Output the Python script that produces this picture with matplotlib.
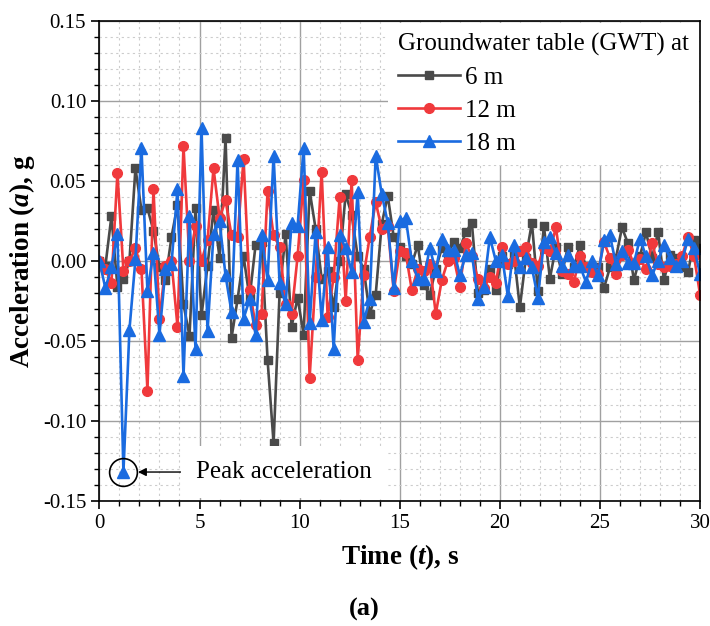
import numpy as np
import matplotlib
matplotlib.use("Agg")
import matplotlib.pyplot as plt
from matplotlib.ticker import MultipleLocator

# sampling times (s), one sample every 0.3 s
time_s = np.round(np.arange(101) * 0.3, 1)

# acceleration (g)
acc_6m = [0.000, -0.003, 0.028, -0.016, -0.011, 0.000, 0.058, 0.032, 0.033, 0.019,
          -0.004, -0.012, 0.015, 0.035, -0.027, -0.047, 0.033, -0.034, -0.003, 0.032,
          0.002, 0.077, -0.048, -0.024, 0.003, -0.023, 0.010, 0.012, -0.062, -0.114,
          -0.020, 0.017, -0.041, -0.023, -0.046, 0.044, 0.020, -0.011, -0.006, -0.029,
          0.000, 0.042, 0.029, 0.003, -0.005, -0.033, -0.021, 0.023, 0.041, 0.015,
          0.009, 0.003, -0.002, 0.010, -0.015, -0.021, -0.005, 0.008, 0.005, 0.012,
          0.008, 0.018, 0.024, -0.020, -0.018, -0.005, -0.018, 0.003, -0.002, 0.005,
          -0.029, 0.002, 0.024, -0.019, 0.022, -0.011, 0.009, -0.008, 0.009, -0.004,
          0.010, -0.004, -0.007, -0.004, -0.017, -0.004, 0.002, 0.021, 0.011, -0.012,
          0.003, 0.018, 0.002, 0.018, -0.012, 0.004, 0.002, -0.004, -0.007, 0.013,
          0.008]
acc_12m = [0.000, -0.005, -0.014, 0.055, -0.006, 0.000, 0.008, -0.005, -0.081, 0.045,
           -0.036, -0.003, 0.000, -0.041, 0.072, 0.000, 0.022, 0.000, 0.013, 0.058,
           0.027, 0.038, 0.016, 0.015, 0.064, -0.018, -0.040, -0.033, 0.044, 0.016,
           0.009, -0.027, -0.033, 0.003, 0.051, -0.073, -0.010, 0.056, -0.035, -0.010,
           0.040, -0.025, 0.051, -0.062, -0.009, 0.015, 0.037, 0.020, 0.022, -0.019,
           0.006, 0.005, -0.018, -0.005, -0.006, -0.002, -0.033, -0.012, 0.000, 0.002,
           -0.016, 0.011, 0.003, -0.011, -0.017, -0.010, -0.014, 0.009, -0.002, 0.000,
           0.006, 0.009, -0.001, -0.003, 0.008, 0.006, 0.021, -0.006, -0.008, -0.013,
           0.003, -0.004, -0.007, -0.008, 0.012, 0.002, -0.008, 0.004, 0.007, -0.002,
           0.001, -0.005, 0.011, -0.002, -0.004, -0.003, -0.002, 0.003, 0.015, 0.003,
           -0.021]
acc_18m = [0.000, -0.017, -0.004, 0.017, -0.132, -0.043, 0.001, 0.071, -0.019, 0.005,
           -0.046, -0.005, -0.002, 0.045, -0.072, 0.028, -0.055, 0.083, -0.044, 0.017,
           0.025, -0.009, -0.032, 0.063, -0.036, -0.024, -0.046, 0.016, -0.012, 0.066,
           -0.014, -0.027, 0.024, 0.022, 0.071, -0.039, 0.018, -0.037, 0.009, -0.055,
           0.016, 0.008, -0.007, 0.043, -0.038, -0.024, 0.066, 0.042, 0.024, -0.017,
           0.025, 0.027, 0.000, -0.011, -0.011, 0.008, -0.006, 0.014, 0.007, 0.007,
           -0.009, 0.004, 0.005, -0.024, -0.016, 0.015, 0.000, 0.004, -0.022, 0.010,
           -0.004, 0.002, -0.004, -0.023, 0.012, 0.015, 0.005, -0.003, 0.004, -0.003,
           -0.003, -0.013, 0.000, -0.009, 0.013, 0.016, -0.002, 0.006, -0.001, -0.001,
           0.014, 0.003, -0.009, 0.000, 0.010, 0.002, -0.003, 0.000, 0.014, 0.008,
           -0.008]

labels = ['6 m', '12 m', '18 m']
colors = ['#4a4a4a', '#f0393c', '#1a6be0']
markers = ['s', 'o', '^']
msizes = [6, 7, 8]

plt.rcParams['font.family'] = 'Liberation Serif'
plt.rcParams['mathtext.fontset'] = 'custom'
plt.rcParams['mathtext.it'] = 'Liberation Serif:italic:bold'
plt.rcParams['mathtext.rm'] = 'Liberation Serif:bold'

fig = plt.figure(figsize=(7.1, 6.26), dpi=100)
ax = fig.add_axes([0.14, 0.2, 0.846, 0.766])

for y, lab, c, m, s in zip([acc_6m, acc_12m, acc_18m], labels, colors, markers, msizes):
    ax.plot(time_s, y, color=c, marker=m, markersize=s, lw=1.9, label=lab)

ax.set_xlim(0, 30)
ax.set_ylim(-0.15, 0.15)
ax.xaxis.set_major_locator(MultipleLocator(5))
ax.xaxis.set_minor_locator(MultipleLocator(1))
ax.yaxis.set_major_locator(MultipleLocator(0.05))
ax.yaxis.set_minor_locator(MultipleLocator(0.01))
ax.yaxis.set_major_formatter(lambda v, p: f'{v:.2f}')
ax.grid(which='major', color='#a0a0a0', lw=1.0)
ax.grid(which='minor', color='#cccccc', lw=0.8, ls=(0, (2, 3)))
ax.set_axisbelow(True)
ax.tick_params(which='major', direction='out', length=6, width=1.2, labelsize=15)
ax.tick_params(which='minor', direction='out', length=3.5, width=1.0)
for sp in ax.spines.values():
    sp.set_linewidth(1.2)

ax.set_xlabel('Time ($t$), s', fontsize=19.5, fontweight='bold', labelpad=7)
ax.set_ylabel('Acceleration ($a$), g', fontsize=19.5, fontweight='bold', labelpad=4)

leg = ax.legend(title='Groundwater table (GWT) at', loc='upper right', fontsize=18,
                title_fontsize=18, frameon=True, framealpha=1, edgecolor='none',
                fancybox=False, handlelength=2.5, handletextpad=0.2, labelspacing=0.42,
                borderaxespad=0.05, borderpad=0.4, alignment='left')

# peak acceleration marker
ipk = int(np.argmin(acc_18m))
ax.plot(time_s[ipk], acc_18m[ipk], 'o', mfc='none', mec='black', mew=1.2, ms=20, zorder=5)
ax.annotate('Peak acceleration', xy=(time_s[ipk], acc_18m[ipk]), xytext=(52, 0),
            textcoords='offset points', fontsize=18, va='center', ha='left',
            bbox=dict(boxstyle='square,pad=0.6', fc='white', ec='none'),
            arrowprops=dict(arrowstyle='-|>', color='black', lw=1.0, shrinkA=0, shrinkB=10.5,
                            mutation_scale=12))

fig.text(0.513, 0.026, '(a)', ha='center', va='center', fontsize=19, fontweight='bold')

fig.savefig('out.png', dpi=100)
